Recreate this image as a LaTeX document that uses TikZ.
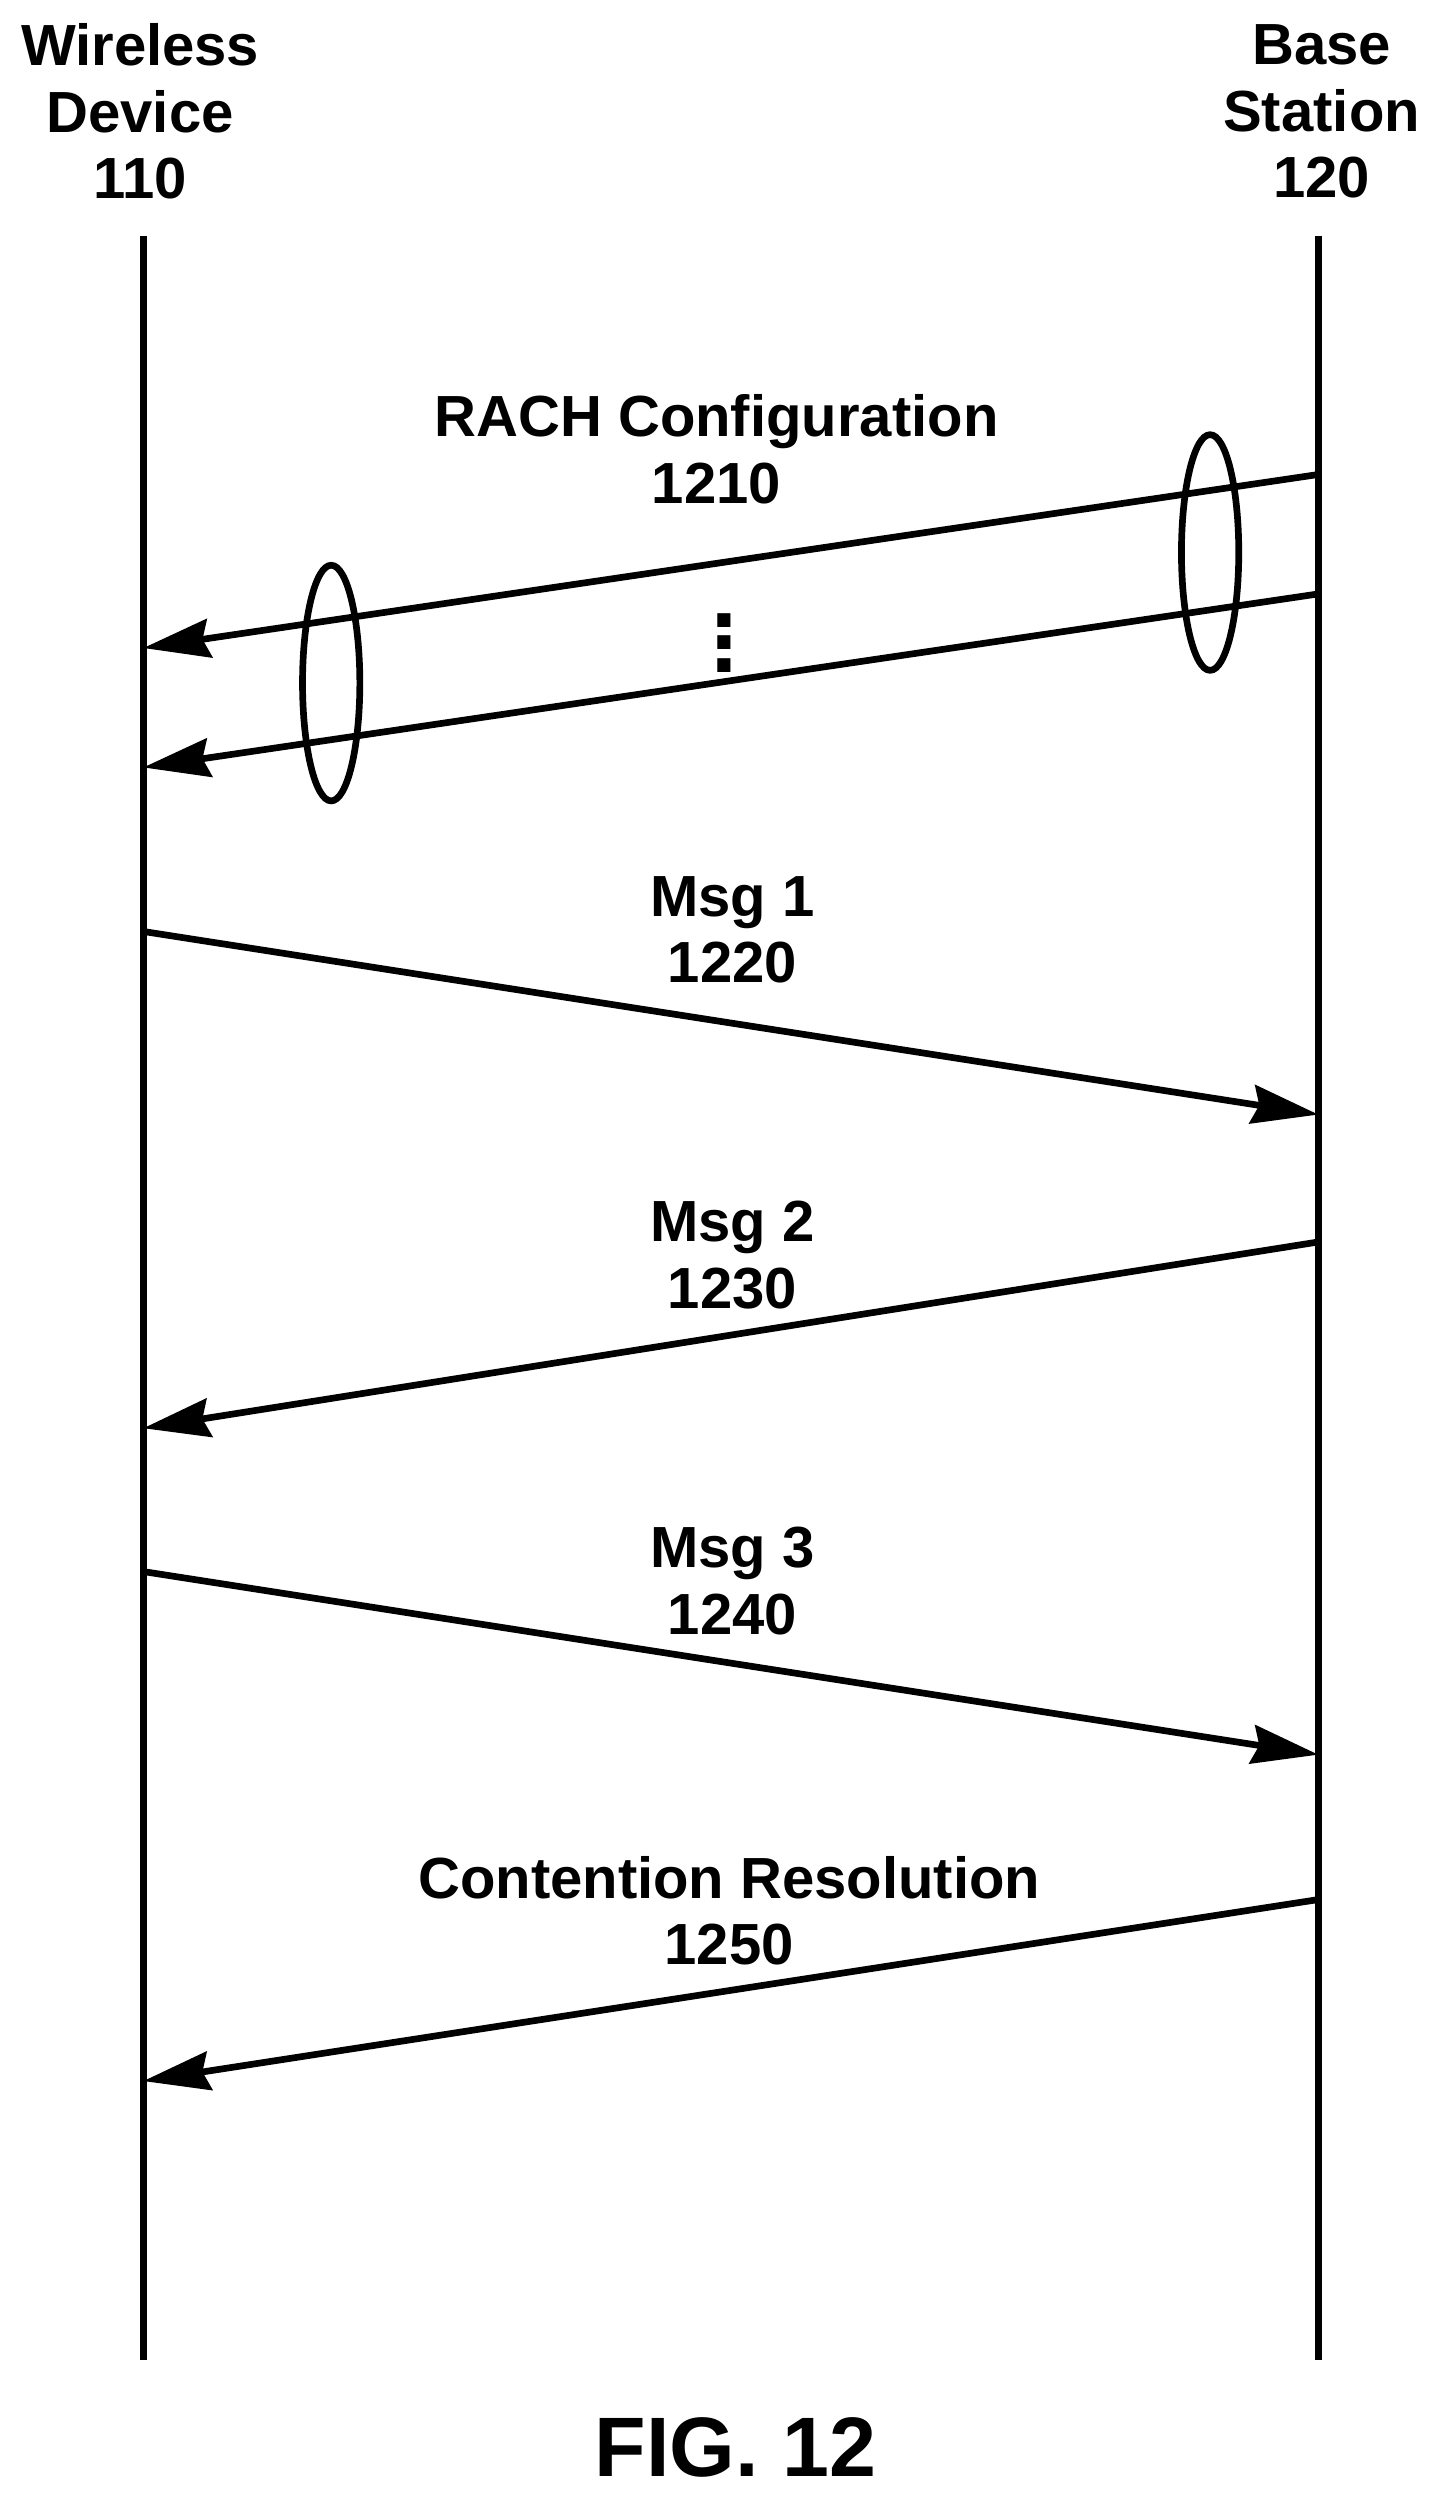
\documentclass[tikz,border=0pt]{standalone}
\usepackage{fontspec}
\setmainfont{Liberation Sans}
\usetikzlibrary{arrows.meta, positioning}

\begin{document}
\begin{tikzpicture}[x=0.01592cm,y=-0.01592cm,line width=1.9pt,
        font=\fontsize{16.5}{19}\selectfont\bfseries,
        msg/.style={-{Stealth[length=19pt,width=11pt,inset=2pt]}},
        lbl/.style={align=center,inner sep=0pt},
        loop/.style={line width=1.9pt}]
    \useasboundingbox (0,0) rectangle (906,1572);
    % participants
    \node[lbl] (wd) at (88,70) {Wireless\\Device\\110};
    \node[lbl] (bs) at (830,70) {Base\\Station\\120};
    \coordinate (wdtop) at (90,148);  \coordinate (wdbot) at (90,1482);
    \coordinate (bstop) at (828,148); \coordinate (bsbot) at (828,1482);
    \draw (wdtop) -- (wdbot);
    \draw (bstop) -- (bsbot);

    % message end points
    \coordinate (r1s) at (828,298);  \coordinate (r1e) at (90,407);
    \coordinate (r2s) at (828,373);  \coordinate (r2e) at (90,482);
    \coordinate (m1s) at (90,585);   \coordinate (m1e) at (828,700);
    \coordinate (m2s) at (828,780);  \coordinate (m2e) at (90,897);
    \coordinate (m3s) at (90,987);   \coordinate (m3e) at (828,1102);
    \coordinate (crs) at (828,1193); \coordinate (cre) at (90,1307);

    \draw[msg] (r1s) -- (r1e);
    \draw[msg] (r2s) -- (r2e);
    \draw[msg] (m1s) -- (m1e);
    \draw[msg] (m2s) -- (m2e);
    \draw[msg] (m3s) -- (m3e);
    \draw[msg] (crs) -- (cre);

    % grouping loops
    \draw[loop] (760,347) ellipse [x radius=18, y radius=74];
    \draw[loop] (208,429) ellipse [x radius=18, y radius=74];

    % labels
    \node[lbl] (rach) at (450,282) {RACH Configuration\\1210};
    \node[lbl,scale=1.6] (dots) at (455,393) {$\vdots$};
    \node[lbl] (msg1) at (460,584) {Msg 1\\1220};
    \node[lbl] (msg2) at (460,788) {Msg 2\\1230};
    \node[lbl] (msg3) at (460,993) {Msg 3\\1240};
    \node[lbl] (cres) at (458,1200) {Contention Resolution\\1250};
    \node[lbl,font=\fontsize{24}{28}\selectfont\bfseries] (fig) at (462,1537) {FIG. 12};
\end{tikzpicture}
\end{document}
